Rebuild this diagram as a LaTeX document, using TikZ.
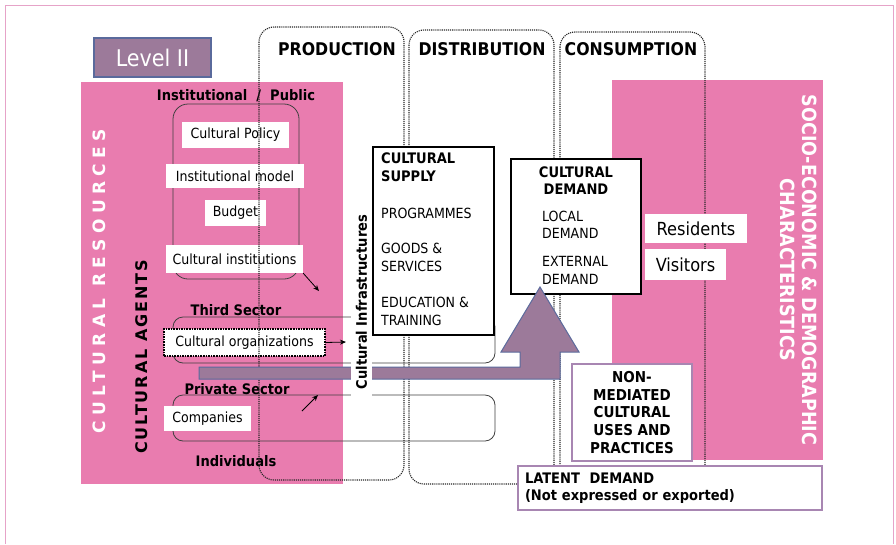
\documentclass[tikz,border=0pt]{standalone}
\usepackage{fontspec}
\setmainfont{DejaVu Sans Condensed}
\newfontfamily\resfont{DejaVu Sans Bold}[LetterSpace=32]
\newfontfamily\agfont{DejaVu Sans Bold}[LetterSpace=12]
\usetikzlibrary{arrows.meta}
\definecolor{pinkbg}{HTML}{E97CAF}
\definecolor{lvlfill}{HTML}{9C7A9A}
\definecolor{lvlline}{HTML}{5A6A9C}
\definecolor{framepink}{HTML}{E6A3C8}
\definecolor{purpline}{HTML}{A886B2}
\definecolor{dotgray}{HTML}{262626}
\newcommand\fsz[2]{\fontsize{#1}{#2}\selectfont}
\begin{document}
\begin{tikzpicture}[x=1pt,y=-1pt,
  wbox/.style={fill=white, inner sep=0pt, font=\fsz{14}{16}},
  lbl/.style={font=\bfseries\fsz{14.5}{17}, inner sep=0pt},
  hdr/.style={font=\bfseries\fsz{17.5}{20}, inner sep=0pt},
  dotrect/.style={draw=dotgray, densely dotted, line width=1.1pt, rounded corners=15pt},
  sect/.style={draw=black!75, line width=0.8pt, rounded corners=10pt},
  arr/.style={-{Stealth[length=6pt,width=5pt]}, line width=0.8pt},
  mainbox/.style={draw=black, line width=2pt, fill=white, inner sep=0pt},
  pbox/.style={draw=purpline, line width=2pt, fill=white, inner sep=0pt},
  txt/.style={inner sep=0pt, font=\fsz{14}{18}, align=left},
  btxt/.style={inner sep=0pt, font=\bfseries\fsz{14.5}{17.5}, align=left},
]
\useasboundingbox (0,0) rectangle (896,544);
\fill[white] (0,0) rectangle (896,544);
\draw[framepink, line width=1pt] (5,544) -- (5,5) -- (893,5) -- (893,544);

% Level II
\node[fill=lvlfill, draw=lvlline, line width=1.5pt, minimum width=117, minimum height=39,
      text=white, font=\fsz{23}{26}, inner sep=0pt] (level) at (152.5,57.5) {Level II};

% pink areas
\fill[pinkbg] (81,82) rectangle (343,484);
\fill[pinkbg] (612,80) rectangle (823,460);

% sector outlines
\draw[sect, rounded corners=15pt] (173,104) rectangle (299,279);
\draw[sect] (173,317) rectangle (495,363);
\draw[sect] (173,395) rectangle (495,441);

% labels
\node[lbl] (instpub) at (236,96) {Institutional~~/~~Public};
\node[lbl] (third) at (236,310) {Third Sector};
\node[lbl] (private) at (237,389) {Private Sector};
\node[lbl] (indiv) at (236,461) {Individuals};

% white boxes
\node[wbox, minimum width=107, minimum height=26] (policy) at (235.5,135) {Cultural Policy};
\node[wbox, minimum width=138, minimum height=24] (model) at (235,176) {Institutional model};
\node[wbox, minimum width=61, minimum height=26] (budget) at (235.5,213) {Budget};
\node[wbox, minimum width=137, minimum height=28] (ci) at (234.5,259) {Cultural institutions};
\node[wbox, draw=black, densely dotted, line width=1.6pt, minimum width=161, minimum height=27] (orgs) at (244.5,342.5) {Cultural organizations};
\node[wbox, minimum width=87, minimum height=25] (comp) at (207.5,418.5) {Companies};

% small arrows
\coordinate (a1) at (319,291);
\coordinate (a2s) at (302,411);
\coordinate (a2e) at (318,395);
\coordinate (a3) at (346,342);
\draw[arr] (ci.south east) -- (a1);
\draw[arr] (a2s) -- (a2e);
\draw[arr] (orgs.east) -- (a3);

% rotated side texts
\node[rotate=90, text=white, font=\resfont\fsz{17}{20}, inner sep=0pt] (res) at (99,281) {CULTURAL RESOURCES};
\node[rotate=90, font=\agfont\fsz{16}{20}, inner sep=0pt] (agents) at (141.5,357) {CULTURAL AGENTS};
\node[rotate=-90, text=white, font=\bfseries\fsz{19.5}{22}, align=center, inner sep=0pt] (socio) at (799,270)
  {SOCIO-ECONOMIC \& DEMOGRAPHIC\\CHARACTERISTICS};

% stage frames
\draw[dotrect] (259,27) rectangle (404,480);
\draw[dotrect] (409,30) rectangle (554,484);
\draw[dotrect] (560,32) rectangle (705,482);
\node[hdr] (prod) at (337,49) {PRODUCTION};
\node[hdr] (dist) at (482,49) {DISTRIBUTION};
\node[hdr] (cons) at (631,49) {CONSUMPTION};

% cultural supply
\node[mainbox, minimum width=121, minimum height=188] (supply) at (433.5,241) {};
\node[btxt, anchor=west] (supt) at (381,167) {CULTURAL\\SUPPLY};
\node[txt, anchor=west] (prog) at (381,213) {PROGRAMMES};
\node[txt, anchor=west] (goods) at (381,257) {GOODS \&\\SERVICES};
\node[txt, anchor=west] (edu) at (381,311) {EDUCATION \&\\TRAINING};

% cultural demand
\node[mainbox, minimum width=130, minimum height=135] (demand) at (576,226) {};
\node[btxt, align=center] (demt) at (576,180.5) {CULTURAL\\DEMAND};
\node[txt, anchor=west, font=\fsz{14}{17.5}] (local) at (542,225) {LOCAL\\DEMAND};
\node[txt, anchor=west, font=\fsz{14}{17.5}] (ext) at (542,270.5) {EXTERNAL\\DEMAND};

% residents / visitors
\node[fill=white, inner sep=0pt, font=\fsz{18}{20}, minimum width=102, minimum height=29] (resid) at (696,228.5) {Residents};
\node[fill=white, inner sep=0pt, font=\fsz{18}{20}, minimum width=81, minimum height=31] (visit) at (685.5,264.5) {Visitors};

% non-mediated and latent
\node[pbox, minimum width=120, minimum height=97, align=center, font=\bfseries\fsz{15}{17.7}] (nonmed) at (632,412.5)
  {NON-\\MEDIATED\\CULTURAL\\USES AND\\PRACTICES};
\node[pbox, minimum height=44, text width=290, inner xsep=7pt, align=left, font=\bfseries\fsz{14.5}{17}] (latent) at (670,488)
  {LATENT~~DEMAND\\(Not expressed or exported)};

% flow arrow
\draw[fill=lvlfill, draw=lvlline, line width=1pt]
  (199,367) -- (520,367) -- (520,352) -- (501,352) -- (540,287) -- (579,352)
  -- (560,352) -- (560,379) -- (199,379) -- cycle;

% cultural infrastructures label
\node[rotate=90, fill=white, inner sep=0pt, minimum width=192, minimum height=21,
      font=\bfseries\fsz{14.5}{17}] (infra) at (361.5,302) {Cultural Infrastructures};
\end{tikzpicture}
\end{document}
